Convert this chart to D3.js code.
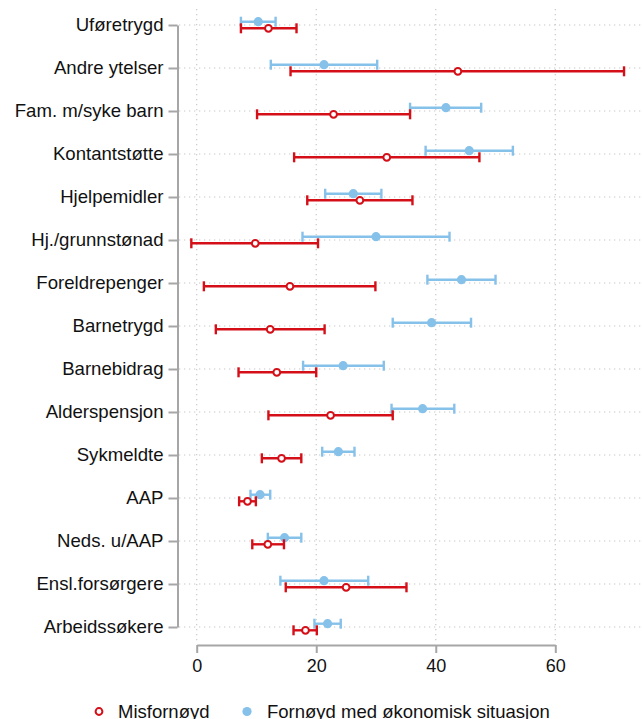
<!DOCTYPE html>
<html>
<head>
<meta charset="utf-8">
<script src="https://cdn.jsdelivr.net/npm/d3@7"></script>
<style>
  html, body { margin: 0; padding: 0; background: #fff; }
  svg { display: block; font-family: "Liberation Sans", Arial, Helvetica, sans-serif; }
</style>
</head>
<body>
<svg id="chart" width="642" height="719"></svg>
<script>
// Groups of recipients, top to bottom
const categories = [
  "Uføretrygd", "Andre ytelser", "Fam. m/syke barn", "Kontantstøtte",
  "Hjelpemidler", "Hj./grunnstønad", "Foreldrepenger", "Barnetrygd",
  "Barnebidrag", "Alderspensjon", "Sykmeldte", "AAP", "Neds. u/AAP",
  "Ensl.forsørgere", "Arbeidssøkere"
];

// "Fornøyd med økonomisk situasjon": estimate with lower / upper CI bounds
const fornoydMean = [10.3, 21.3, 41.7, 45.6, 26.2, 30.0, 44.3, 39.3, 24.5, 37.8, 23.7, 10.6, 14.7, 21.3, 21.9];
const fornoydLow  = [ 7.4, 12.4, 35.7, 38.3, 21.5, 17.7, 38.6, 32.8, 17.8, 32.6, 21.0,  9.0, 11.9, 14.0, 19.7];
const fornoydHigh = [13.2, 30.2, 47.6, 52.9, 30.9, 42.3, 50.0, 45.9, 31.3, 43.1, 26.4, 12.3, 17.5, 28.7, 24.1];

// "Misfornøyd": estimate with lower / upper CI bounds
const misfornoydMean = [12.0, 43.7, 22.9, 31.8, 27.3,  9.8, 15.6, 12.3, 13.4, 22.4, 14.2,  8.5, 11.9, 25.0, 18.2];
const misfornoydLow  = [ 7.4, 15.7, 10.1, 16.3, 18.5, -0.9,  1.2,  3.2,  7.0, 12.0, 10.9,  7.1,  9.3, 14.9, 16.2];
const misfornoydHigh = [16.7, 71.5, 35.7, 47.3, 36.1, 20.3, 29.9, 21.4, 20.0, 32.8, 17.5,  9.9, 14.6, 35.1, 20.1];

const xTicks = [0, 20, 40, 60];

const legendLabels = ["Misfornøyd", "Fornøyd med økonomisk situasjon"];

const red = "#d40f18";
const blue = "#86c1ea";
const axisGray = "#a6a6a6";
const gridGray = "#c8c8c8";
const textColor = "#111";
const font = "'Liberation Sans', Arial, sans-serif";

const svg = d3.select("#chart");

const x = d3.scaleLinear().domain([0, 60]).range([196.7, 555.3]);
const y = d3.scalePoint().domain(categories).range([25, 627]);

const plotLeft = 179, plotRight = 642, plotTop = 9, plotBottom = 641;
const axisY = 645;
const offset = 3.3; // vertical shift between the two series in each row

// Dotted gridlines
const grid = svg.append("g");
grid.selectAll("line.h").data(categories).join("line")
  .attr("x1", plotLeft).attr("x2", plotRight)
  .attr("y1", d => y(d)).attr("y2", d => y(d))
  .attr("stroke", gridGray).attr("stroke-width", 1.2)
  .attr("stroke-dasharray", "1.3,3.7");
grid.selectAll("line.v").data(xTicks).join("line")
  .attr("x1", d => x(d)).attr("x2", d => x(d))
  .attr("y1", plotTop).attr("y2", plotBottom)
  .attr("stroke", gridGray).attr("stroke-width", 1.2)
  .attr("stroke-dasharray", "1.3,3.7");

// Y axis
const yAxis = svg.append("g")
  .attr("transform", "translate(177.5,0)")
  .call(d3.axisLeft(y).tickSize(9).tickSizeOuter(0).tickPadding(5));
yAxis.select(".domain").attr("stroke", axisGray).attr("stroke-width", 2);
yAxis.selectAll(".tick line").attr("stroke", axisGray).attr("stroke-width", 2);
yAxis.selectAll(".tick text")
  .attr("fill", textColor).style("font-size", "18.6px")
  .style("font-family", font);

// X axis
const xAxis = svg.append("g")
  .attr("transform", `translate(0,${axisY})`)
  .call(d3.axisBottom(x).tickValues(xTicks).tickFormat(d3.format("d"))
    .tickSize(8).tickSizeOuter(0).tickPadding(6));
xAxis.select(".domain").attr("stroke", axisGray).attr("stroke-width", 2);
xAxis.selectAll(".tick line").attr("stroke", axisGray).attr("stroke-width", 2);
xAxis.selectAll(".tick text")
  .attr("fill", textColor).style("font-size", "18px")
  .style("font-family", font);

// Error bars with end caps
function drawSeries(mean, low, high, color, dy, hollow) {
  const rows = categories.map((c, i) => ({ c, m: mean[i], lo: low[i], hi: high[i] }));
  const g = svg.append("g");
  const capH = 5;
  g.selectAll("line.bar").data(rows).join("line")
    .attr("x1", d => x(d.lo)).attr("x2", d => x(d.hi))
    .attr("y1", d => y(d.c) + dy).attr("y2", d => y(d.c) + dy)
    .attr("stroke", color).attr("stroke-width", 2.4);
  g.selectAll("line.capl").data(rows).join("line")
    .attr("x1", d => x(d.lo)).attr("x2", d => x(d.lo))
    .attr("y1", d => y(d.c) + dy - capH).attr("y2", d => y(d.c) + dy + capH)
    .attr("stroke", color).attr("stroke-width", 2.4);
  g.selectAll("line.capr").data(rows).join("line")
    .attr("x1", d => x(d.hi)).attr("x2", d => x(d.hi))
    .attr("y1", d => y(d.c) + dy - capH).attr("y2", d => y(d.c) + dy + capH)
    .attr("stroke", color).attr("stroke-width", 2.4);
  g.selectAll("circle").data(rows).join("circle")
    .attr("cx", d => x(d.m)).attr("cy", d => y(d.c) + dy)
    .attr("r", hollow ? 3.4 : 4.6)
    .attr("fill", hollow ? "#fff" : color)
    .attr("stroke", color).attr("stroke-width", hollow ? 2 : 0);
}

drawSeries(fornoydMean, fornoydLow, fornoydHigh, blue, -offset, false);
drawSeries(misfornoydMean, misfornoydLow, misfornoydHigh, red, offset, true);

// Legend
const legend = svg.append("g").style("font-family", font);
legend.append("circle").attr("cx", 99).attr("cy", 711.5).attr("r", 3.4)
  .attr("fill", "#fff").attr("stroke", red).attr("stroke-width", 2);
legend.append("text").attr("x", 118).attr("y", 717.5).text(legendLabels[0])
  .attr("fill", textColor).style("font-size", "18.5px");
legend.append("circle").attr("cx", 247).attr("cy", 711.5).attr("r", 4.6)
  .attr("fill", blue);
legend.append("text").attr("x", 267).attr("y", 717.5).text(legendLabels[1])
  .attr("fill", textColor).style("font-size", "18.5px");
</script>
</body>
</html>
